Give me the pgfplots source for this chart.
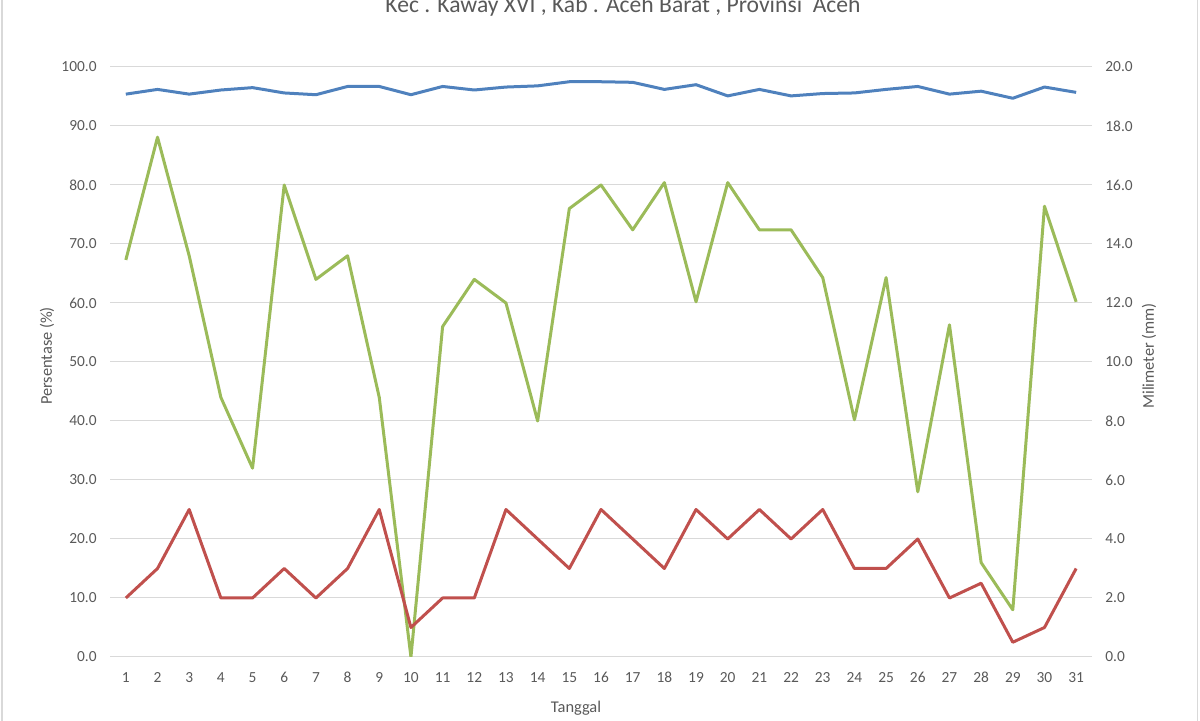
\documentclass[border=0pt]{standalone}
\usepackage{fontspec}
\setmainfont{Carlito}
\usepackage{pgfplots}
\pgfplotsset{compat=1.18}
\definecolor{rh}{HTML}{4F81BD}
\definecolor{rain}{HTML}{C0504D}
\definecolor{sun}{HTML}{9BBB59}
\definecolor{txt}{HTML}{595959}
\definecolor{gridc}{HTML}{D9D9D9}

\pgfplotsset{
  base/.style={
    scale only axis,
    width=491pt, height=295pt,
    at={(55pt,32pt)}, anchor=south west,
    xmin=0.5, xmax=31.5,
    axis line style={draw=none},
    major tick length=0pt,
    tick label style={font=\fontsize{7.7}{9}\selectfont, text=txt},
    /pgf/number format/assume math mode=true,
    /pgf/number format/.cd, fixed, fixed zerofill, precision=1,
  },
}

\begin{document}
\begin{tikzpicture}
\useasboundingbox (0,0) rectangle (600pt,360.5pt);
\draw[gridc, line width=0.8pt] (1pt,0) -- (1pt,360.5pt);
\draw[gridc, line width=0.8pt] (598.8pt,0) -- (598.8pt,360.5pt);

\begin{axis}[base,
    ymin=0, ymax=100,
    ytick={0,10,...,100},
    xtick={1,...,31},
    xticklabel={\pgfmathprintnumber[precision=0,fixed zerofill=false]{\tick}},
    xticklabel style={inner sep=0pt, yshift=-7.5pt},
    yticklabel style={inner sep=0pt, xshift=-6.5pt},
    ymajorgrids, grid style={gridc, line width=0.5pt},
  ]
  % kelembapan (%)
  \addplot[rh, line width=1.5pt, line join=round, mark=none] coordinates {
    (1,95.4) (2,96.2) (3,95.4) (4,96.1) (5,96.5) (6,95.6) (7,95.3) (8,96.7)
    (9,96.7) (10,95.3) (11,96.7) (12,96.1) (13,96.6) (14,96.8) (15,97.5)
    (16,97.5) (17,97.4) (18,96.2) (19,97.0) (20,95.1) (21,96.2) (22,95.1)
    (23,95.5) (24,95.6) (25,96.2) (26,96.7) (27,95.4) (28,95.9) (29,94.7)
    (30,96.6) (31,95.7)
  };
  % penyinaran (%)
  \addplot[sun, line width=1.5pt, line join=round, mark=none] coordinates {
    (1,67.3) (2,88.1) (3,68.0) (4,44.0) (5,32.0) (6,80.0) (7,64.0) (8,68.0)
    (9,44.0) (10,0.0) (11,56.0) (12,64.0) (13,60.0) (14,40.0) (15,76.0)
    (16,80.0) (17,72.4) (18,80.4) (19,60.2) (20,80.4) (21,72.4) (22,72.4)
    (23,64.3) (24,40.2) (25,64.3) (26,28.0) (27,56.3) (28,16.0) (29,8.0)
    (30,76.4) (31,60.2)
  };
\end{axis}

\begin{axis}[base,
    ymin=0, ymax=20,
    ytick={0,2,...,20},
    xtick=\empty,
    axis y line*=right,
    yticklabel style={inner sep=0pt, xshift=6.5pt, anchor=west},
  ]
  % curah hujan (mm)
  \addplot[rain, line width=1.5pt, line join=round, mark=none] coordinates {
    (1,2) (2,3) (3,5) (4,2) (5,2) (6,3) (7,2) (8,3) (9,5) (10,1)
    (11,2) (12,2) (13,5) (14,4) (15,3) (16,5) (17,4) (18,3) (19,5) (20,4)
    (21,5) (22,4) (23,5) (24,3) (25,3) (26,4) (27,2) (28,2.5) (29,0.5)
    (30,1) (31,3)
  };
\end{axis}

\node[anchor=base, text=txt, font=\fontsize{11.8}{13}\selectfont] at (311.5pt,354pt)
  {Kec . Kaway XVI , Kab . Aceh Barat , Provinsi\ \ Aceh};
\node[text=txt, font=\fontsize{8.2}{10}\selectfont] at (288pt,6.5pt) {Tanggal};
\node[text=txt, rotate=90, font=\fontsize{8.2}{10}\selectfont] at (23.5pt,182.5pt) {Persentase (\%)};
\node[text=txt, rotate=90, font=\fontsize{8.2}{10}\selectfont] at (574.5pt,182.5pt) {Milimeter (mm)};
\end{tikzpicture}
\end{document}
